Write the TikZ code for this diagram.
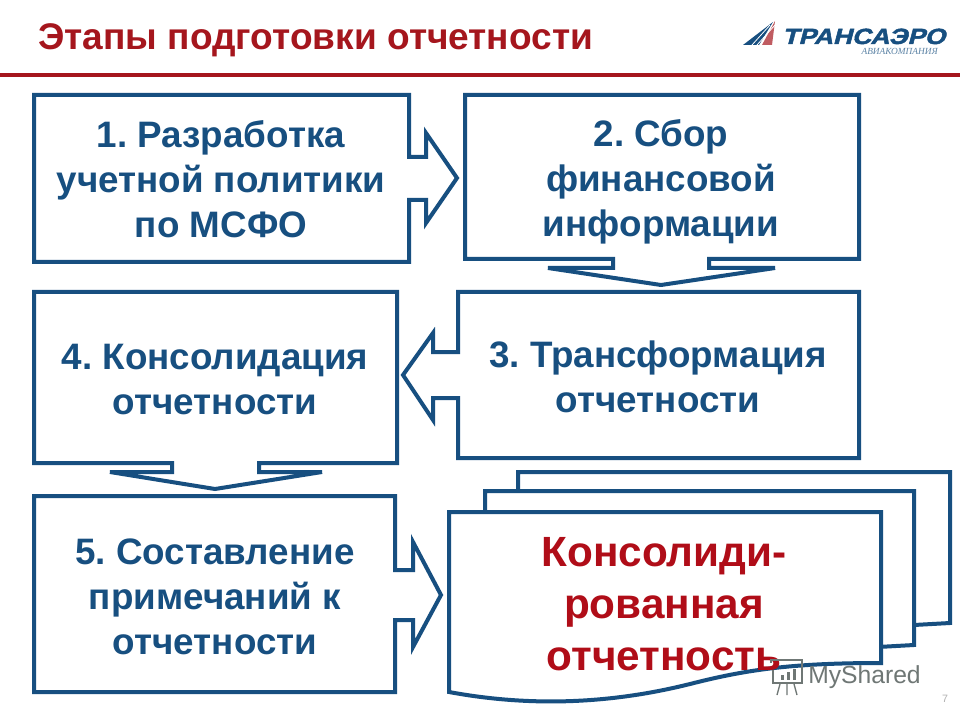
\documentclass[tikz,border=0pt]{standalone}
\usepackage{fontspec}
\setmainfont{Liberation Sans}
\newfontfamily\logoserif{Liberation Serif}
\newfontfamily\logoheavy[BoldFeatures={FakeBold=2,FakeSlant=.22}]{Liberation Sans}
\usepackage{tikz}
\definecolor{stepblue}{HTML}{174F80}
\definecolor{titlered}{HTML}{A5161D}
\definecolor{resultred}{HTML}{B00D18}
\definecolor{markgray}{HTML}{6F7775}
\tikzstyle{outline}=[line width=3pt, draw=stepblue, fill=white, line join=miter, miter limit=10]
\tikzstyle{steptext}=[align=center, text=stepblue, font=\frenchspacing\fontsize{27.6}{33.8}\selectfont\bfseries, inner sep=0pt]
\tikzstyle{resulttext}=[align=center, text=resultred, font=\fontsize{31.7}{39}\selectfont\bfseries, inner sep=0pt]

\begin{document}
\begin{tikzpicture}[x=.75pt, y=-.75pt]
    \useasboundingbox (0,0) rectangle (960,720);
    \fill[white] (0,0) rectangle (960,720);

    % heading and rule
    \node[anchor=base west, inner sep=0pt, text=titlered, font=\fontsize{27.8}{30}\selectfont\bfseries]
      (heading) at (38,49.5) {Этапы подготовки отчетности};
    \draw[line width=3pt, color=titlered] (0,75) -- (960,75);

    % airline mark
    \fill[stepblue] (743,45) -- (773,22) -- (759,45) -- cycle;
    \fill[titlered!70] (762,45) -- (775,21) -- (772,45) -- cycle;
    \foreach \x in {0,5}
      \draw[white, line width=.6pt] (752+\x,45) -- (770+\x,25);
    \node[anchor=base west, inner sep=0pt, text=stepblue, font=\logoheavy\fontsize{16.5}{18}\selectfont\bfseries,
      xscale=1.2] (logoname) at (782,44) {ТРАНСАЭРО};
    \node[anchor=base east, inner sep=0pt, text=stepblue!70, font=\logoserif\fontsize{7}{8}\selectfont\itshape]
      (logosub) at (938,55) {АВИАКОМПАНИЯ};

    % boxes with their arrows, one outline each
    \draw[outline] (34,95) -- (409,95) -- (409,157) -- (426,157) -- (426,133) -- (457,178)
      -- (426,223) -- (426,200) -- (409,200) -- (409,262) -- (34,262) -- cycle;
    \draw[outline] (465,95) -- (859,95) -- (859,259) -- (709,259) -- (709,268) -- (775,268)
      -- (661,285) -- (548,268) -- (613,268) -- (613,259) -- (465,259) -- cycle;
    \draw[outline] (458,292) -- (859,292) -- (859,458) -- (458,458) -- (458,398) -- (433,398)
      -- (433,420) -- (403,375) -- (433,333) -- (433,352) -- (458,352) -- cycle;
    \draw[outline] (34,292) -- (397,292) -- (397,463) -- (259,463) -- (259,472) -- (322,472)
      -- (215,489) -- (110,472) -- (172,472) -- (172,463) -- (34,463) -- cycle;
    \draw[outline] (34,496) -- (395,496) -- (395,570) -- (413,570) -- (413,542) -- (441,595)
      -- (413,647) -- (413,620) -- (395,620) -- (395,692) -- (34,692) -- cycle;

    % stack of sheets, back to front
    \foreach \x/\y/\r/\b in {518/472/950/623, 485/491/914/645}{
      \draw[outline] (\x,\y) -- (\r,\y) -- (\r,\b) -- (\r-36,\b+2) -- (\x,\b+2) -- cycle;
    }
    \draw[outline] (449,512) -- (881,512) -- (881,663) .. controls (790,663) and (745,670) .. (690,684)
      .. controls (610,704) and (530,707) .. (449,692) -- cycle;

    % labels
    \node[steptext] (develop) at (221,179.5) {1. Разработка\\учетной политики\\по МСФО};
    \node[steptext] (collect) at (661,182) {2. Сбор\\финансовой\\информации};
    \node[steptext] (transform) at (658,376.5) {3. Трансформация\\отчетности};
    \node[steptext] (consolidate) at (215,379.5) {4. Консолидация\\отчетности};
    \node[steptext] (notes) at (215,597) {5. Составление\\примечаний к\\отчетности};
    \node[resulttext] (result) at (664,604) {Консолиди-\\рованная\\отчетность};

    % site mark and page number
    \draw[markgray, line width=1.4pt] (771,663) -- (771,660) -- (802,660) -- (802,683) -- (773,683) -- (773,670);
    \foreach \x/\h in {781/5,787/8,793/11}
      \fill[markgray] (\x,680) rectangle (\x+3,680-\h);
    \draw[markgray, line width=1pt] (780,684) -- (777,695) (787,684) -- (787,695) (794,684) -- (797,695);
    \node[anchor=base west, inner sep=0pt, text=markgray, font=\fontsize{18.5}{20}\selectfont]
      (sitename) at (808,683) {MyShared};
    \node[anchor=base, inner sep=0pt, text=black!30, font=\fontsize{8}{9}\selectfont]
      (pagenum) at (945,702) {7};
\end{tikzpicture}
\end{document}
